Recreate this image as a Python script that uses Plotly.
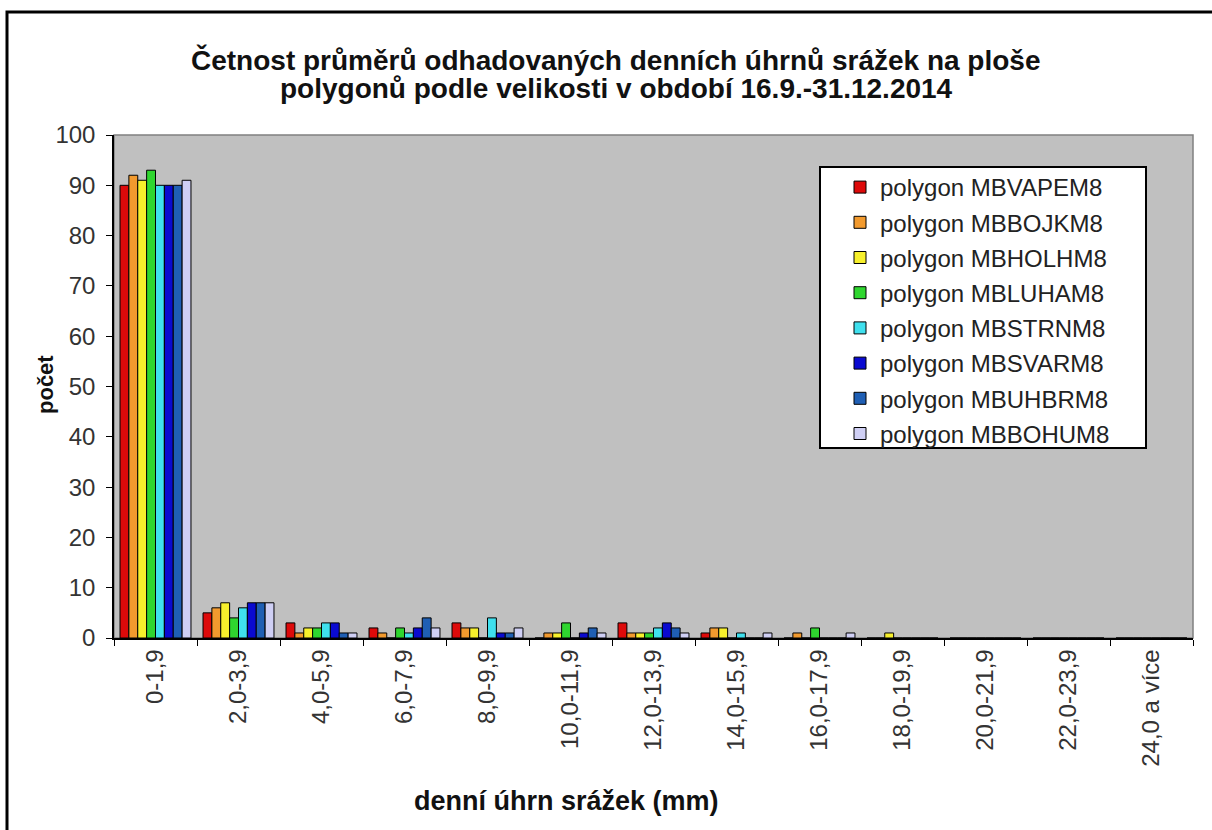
import plotly.graph_objects as go

categories = ["0-1,9", "2,0-3,9", "4,0-5,9", "6,0-7,9", "8,0-9,9", "10,0-11,9",
              "12,0-13,9", "14,0-15,9", "16,0-17,9", "18,0-19,9", "20,0-21,9",
              "22,0-23,9", "24,0 a více"]

series_names = ["polygon MBVAPEM8", "polygon MBBOJKM8", "polygon MBHOLHM8",
                "polygon MBLUHAM8", "polygon MBSTRNM8", "polygon MBSVARM8",
                "polygon MBUHBRM8", "polygon MBBOHUM8"]

mbvapem8 = [90, 5, 3, 2, 3, 0, 3, 1, 0, 0, 0, 0, 0]
mbbojkm8 = [92, 6, 1, 1, 2, 1, 1, 2, 1, 0, 0, 0, 0]
mbholhm8 = [91, 7, 2, 0, 2, 1, 1, 2, 0, 1, 0, 0, 0]
mbluham8 = [93, 4, 2, 2, 0, 3, 1, 0, 2, 0, 0, 0, 0]
mbstrnm8 = [90, 6, 3, 1, 4, 0, 2, 1, 0, 0, 0, 0, 0]
mbsvarm8 = [90, 7, 3, 2, 1, 1, 3, 0, 0, 0, 0, 0, 0]
mbuhbrm8 = [90, 7, 1, 4, 1, 2, 2, 0, 0, 0, 0, 0, 0]
mbbohum8 = [91, 7, 1, 2, 2, 1, 1, 1, 1, 0, 0, 0, 0]

series_values = [mbvapem8, mbbojkm8, mbholhm8, mbluham8,
                 mbstrnm8, mbsvarm8, mbuhbrm8, mbbohum8]
colors = ["#dd0a0a", "#f29a2e", "#f7f02c", "#2fd62f",
          "#3fe0ee", "#0a0ad0", "#1f5fb4", "#cfcff4"]

title_lines = ["Četnost průměrů odhadovaných denních úhrnů srážek na ploše",
               "polygonů podle velikosti v období 16.9.-31.12.2014"]
x_title = "denní úhrn srážek (mm)"
y_title = "počet"

W, H = 1212, 830
L, R, T, B = 114, 19, 135, 192
pw, ph = W - L - R, H - T - B

def px(x):
    return (x - L) / pw

def py(y):
    return 1 - (y - T) / ph

FONT = "Arial, Liberation Sans, sans-serif"

fig = go.Figure()
for i, (name, vals) in enumerate(zip(series_names, series_values)):
    fig.add_trace(go.Bar(
        x=categories, y=vals, name=name,
        marker=dict(color=colors[i], line=dict(color="#000000", width=1)),
        legendgroup=name,
    ))

fig.update_layout(
    width=W, height=H,
    margin=dict(l=L, r=R, t=T, b=B),
    paper_bgcolor="white",
    plot_bgcolor="#c0c0c0",
    barmode="group",
    bargap=0.145,
    bargroupgap=0,
    showlegend=True,
    legend=dict(
        x=px(840), y=py(165), xanchor="left", yanchor="top",
        bgcolor="rgba(0,0,0,0)", borderwidth=0,
        font=dict(family=FONT, size=24, color="#222222"),
        tracegroupgap=1,
        itemwidth=30,
    ),
    xaxis=dict(
        type="category",
        tickangle=-90,
        tickson="boundaries",
        ticks="outside", ticklen=6, tickcolor="#000000",
        showline=True, linecolor="#000000", linewidth=1.5,
        showgrid=False,
        tickfont=dict(family=FONT, size=24, color="#333333"),
    ),
    yaxis=dict(
        range=[0, 100], dtick=10,
        ticks="outside", ticklen=6, tickcolor="#000000",
        showline=True, linecolor="#000000", linewidth=1.5,
        showgrid=False, zeroline=False,
        tickfont=dict(family=FONT, size=24, color="#333333"),
        ticklabelstandoff=6,
    ),
    shapes=[
        dict(type="rect", xref="paper", yref="paper",
             x0=px(7), y0=py(900), x1=px(1260), y1=py(12),
             line=dict(color="#000000", width=3), fillcolor="rgba(0,0,0,0)",
             layer="below"),
        dict(type="rect", xref="paper", yref="paper",
             x0=0, y0=0, x1=1, y1=1,
             line=dict(color="#808080", width=1.5), fillcolor="rgba(0,0,0,0)",
             layer="below"),
        dict(type="rect", xref="paper", yref="paper",
             x0=px(820), y0=py(448), x1=px(1146), y1=py(167),
             line=dict(color="#000000", width=2), fillcolor="white",
             layer="above"),
    ],
    annotations=[
        dict(text="<b>" + title_lines[0] + "</b>",
             xref="paper", yref="paper", x=px(615), y=py(60),
             xanchor="center", yanchor="middle", showarrow=False,
             font=dict(family=FONT, size=28, color="#111111")),
        dict(text="<b>" + title_lines[1] + "</b>",
             xref="paper", yref="paper", x=px(616), y=py(89),
             xanchor="center", yanchor="middle", showarrow=False,
             font=dict(family=FONT, size=28, color="#111111")),
        dict(text="<b>" + x_title + "</b>",
             xref="paper", yref="paper", x=px(566), y=py(801),
             xanchor="center", yanchor="middle", showarrow=False,
             font=dict(family=FONT, size=27, color="#111111")),
        dict(text="<b>" + y_title + "</b>", textangle=-90,
             xref="paper", yref="paper", x=px(45), y=py(385),
             xanchor="center", yanchor="middle", showarrow=False,
             font=dict(family=FONT, size=22, color="#111111")),
    ],
)

fig.write_html("out.html")
